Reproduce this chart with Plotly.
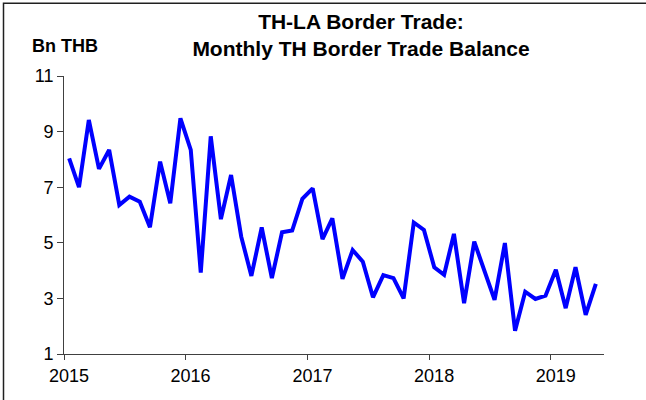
import plotly.graph_objects as go

# ---- data ----
months = [f"{y}-{m:02d}-01" for y in range(2015, 2020) for m in range(1, 13)][:53]
balance_bn_thb = [
    8.04, 7.00, 9.42, 7.66, 8.34, 6.36, 6.66, 6.48, 5.56, 7.92, 6.42, 9.48,
    8.34, 3.93, 8.83, 5.85, 7.44, 5.22, 3.81, 5.55, 3.73, 5.38, 5.44, 6.58,
    6.96, 5.13, 5.88, 3.70, 4.74, 4.32, 3.04, 3.84, 3.73, 3.00, 5.73, 5.46,
    4.12, 3.85, 5.32, 2.83, 5.04, 4.03, 2.95, 4.99, 1.84, 3.24, 2.98, 3.10,
    4.03, 2.65, 4.12, 2.41, 3.52,
]
y_ticks = [1, 3, 5, 7, 9, 11]
title_text = "TH-LA Border Trade:<br>Monthly TH Border Trade Balance"
unit_text = "Bn THB"

# ---- layout geometry (pixels) ----
W, H = 646, 400
L, R, T, B = 64, 42, 76, 45.5
pw, ph = W - L - R, H - T - B

def px_x(x):
    return (x - L) / pw

def px_y(y):
    return (H - B - y) / ph

FONT = "Liberation Sans, Arial, sans-serif"
AX = "#404040"

fig = go.Figure()
fig.add_trace(go.Scatter(
    x=months, y=balance_bn_thb, mode="lines",
    xperiod="M1", xperiodalignment="middle",
    line=dict(color="#0000FF", width=4),
    showlegend=False, hoverinfo="x+y",
))

fig.update_layout(
    width=W, height=H,
    margin=dict(l=L, r=R, t=T, b=B),
    paper_bgcolor="white", plot_bgcolor="white",
    font=dict(family=FONT, size=18, color="black"),
    title=dict(
        text=title_text,
        x=361 / W, xanchor="center", xref="container",
        y=1 - 29 / H, yanchor="middle", yref="container",
        font=dict(family=FONT, size=21, color="black", weight="bold"),
    ),
    xaxis=dict(
        type="date",
        range=["2015-01-01", "2019-06-10"],
        dtick="M12", tick0="2015-01-01", tickformat="%Y",
        ticks="outside", ticklen=5, tickcolor=AX, tickwidth=1,
        ticklabelshift=5,
        showline=True, linecolor=AX, linewidth=1,
        showgrid=False, zeroline=False,
        tickfont=dict(size=18),
    ),
    yaxis=dict(
        range=[1, 11],
        tickvals=y_ticks,
        ticks="outside", ticklen=6, tickcolor=AX, tickwidth=1,
        showline=True, linecolor=AX, linewidth=1,
        showgrid=False, zeroline=False,
        tickfont=dict(size=18),
    ),
    annotations=[
        dict(
            text=unit_text, xref="paper", yref="paper",
            x=px_x(30), y=px_y(46), xanchor="left", yanchor="middle",
            showarrow=False,
            font=dict(family=FONT, size=18, color="black", weight="bold"),
        )
    ],
    shapes=[
        dict(
            type="rect", xref="paper", yref="paper",
            x0=px_x(3.5), x1=px_x(660), y0=px_y(420), y1=px_y(3),
            line=dict(color="#202020", width=1.5), fillcolor="rgba(0,0,0,0)",
            layer="below",
        )
    ],
)

fig.write_html(
    "out.html",
    config={"displayModeBar": False},
    post_script="document.body.style.margin='0';document.body.style.overflow='hidden';",
)
